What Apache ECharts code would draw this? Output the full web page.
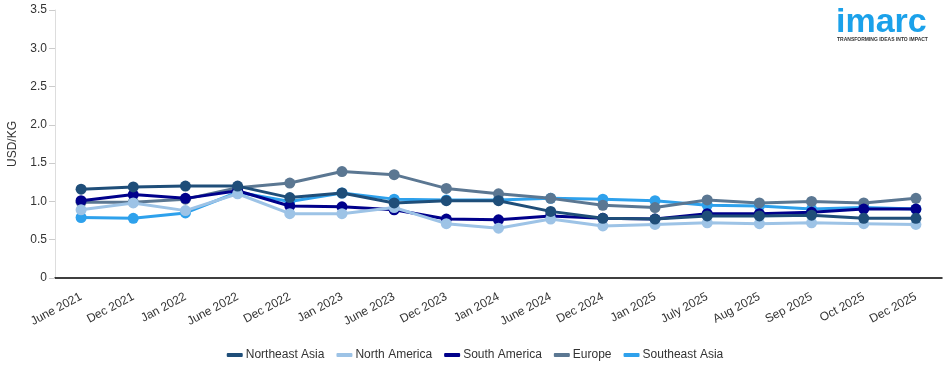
<!DOCTYPE html>
<html>
<head>
<meta charset="utf-8">
<script src="https://cdn.jsdelivr.net/npm/echarts@6/dist/echarts.min.js"></script>
<style>
html,body{margin:0;padding:0;background:#fff;}
#chart{width:950px;height:373px;}
</style>
</head>
<body>
<div id="chart"></div>
<script>
var categories = ["June 2021","Dec 2021","Jan 2022","June 2022","Dec 2022","Jan 2023","June 2023","Dec 2023","Jan 2024","June 2024","Dec 2024","Jan 2025","July 2025","Aug 2025","Sep 2025","Oct 2025","Dec 2025"];
var northeastAsia = [1.16,1.19,1.20,1.20,1.05,1.11,0.98,1.01,1.01,0.87,0.78,0.77,0.81,0.81,0.82,0.78,0.78];
var northAmerica  = [0.89,0.98,0.88,1.10,0.84,0.84,0.92,0.71,0.65,0.77,0.68,0.70,0.72,0.71,0.72,0.71,0.70];
var southAmerica  = [1.01,1.09,1.04,1.14,0.94,0.93,0.89,0.77,0.76,0.81,0.78,0.77,0.84,0.84,0.86,0.90,0.90];
var europe        = [0.99,0.99,1.03,1.18,1.24,1.39,1.35,1.17,1.10,1.04,0.95,0.92,1.02,0.98,1.00,0.98,1.04];
var southeastAsia = [0.79,0.78,0.85,1.12,1.00,1.11,1.03,1.02,1.02,1.04,1.03,1.01,0.95,0.94,0.90,0.92,0.90];
var yTicks = [0,0.5,1.0,1.5,2.0,2.5,3.0,3.5];

var seriesDefs = [
  {name:"Northeast Asia", data:northeastAsia, color:"#1f4e79"},
  {name:"North America", data:northAmerica, color:"#9dc3e6"},
  {name:"South America", data:southAmerica, color:"#00008b"},
  {name:"Europe", data:europe, color:"#5b7792"},
  {name:"Southeast Asia", data:southeastAsia, color:"#2ea1ec"}
];

var chart = echarts.init(document.getElementById('chart'));
chart.setOption({
  animation:false,
  textStyle:{fontFamily:"Liberation Sans, Arial, sans-serif"},
  grid:{left:55,right:8,top:10,bottom:95,outerBoundsMode:'none',containLabel:false},
  legend:{
    bottom:7,
    left:'center',
    itemWidth:16,itemHeight:4,itemGap:12,
    icon:'roundRect',
    textStyle:{fontSize:12,color:'#333',padding:[0,0,0,-2]},
    data:seriesDefs.map(function(s){return s.name;})
  },
  xAxis:{
    type:'category',
    data:categories,
    boundaryGap:true,
    axisLine:{lineStyle:{color:'#000',width:1.5}},
    axisTick:{alignWithLabel:true,length:6,lineStyle:{color:'#000'}},
    axisLabel:{rotate:28,fontSize:12,color:'#333',margin:18,interval:0}
  },
  yAxis:{
    type:'value',
    min:0,max:3.5,interval:0.5,
    name:'USD/KG',
    nameLocation:'middle',
    nameGap:36,
    nameTextStyle:{fontSize:12,color:'#333'},
    axisLine:{show:true,lineStyle:{color:'#ddd'}},
    axisTick:{show:true,length:6,lineStyle:{color:'#ccc'}},
    splitLine:{show:false},
    axisLabel:{fontSize:12,color:'#333',formatter:function(v){return v===0?'0':v.toFixed(1);}}
  },
  series:seriesDefs.map(function(s,i){
    return {
      name:s.name,type:'line',data:s.data,
      z:10-i,
      symbol:'circle',symbolSize:11,
      lineStyle:{width:3,color:s.color},
      itemStyle:{color:s.color},
      emphasis:{disabled:true}
    };
  }),
  graphic:[
    {type:'text',left:836,top:6,style:{text:'imarc',font:'bold 34px "Liberation Sans", Arial, sans-serif',fill:'#1ba1ea'}},
    {type:'text',left:837,top:37,style:{text:'TRANSFORMING IDEAS INTO IMPACT',font:'bold 5px "Liberation Sans", Arial, sans-serif',fill:'#333'}}
  ]
});
</script>
</body>
</html>
